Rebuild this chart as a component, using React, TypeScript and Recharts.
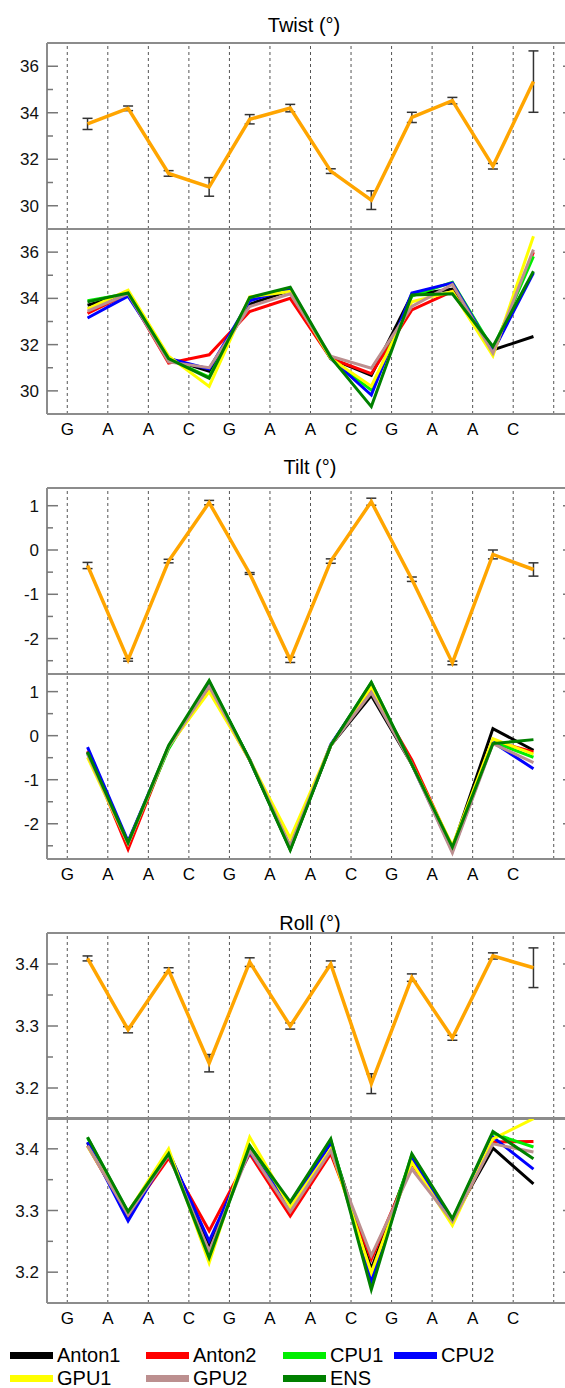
import { LineChart, Line, XAxis, YAxis, ReferenceLine, ErrorBar } from 'recharts';

const SEQ = ['G', 'A', 'A', 'C', 'G', 'A', 'A', 'C', 'G', 'A', 'A', 'C'];
const GRID_X = [0, 1, 2, 3, 4, 5, 6, 7, 8, 9, 10, 11, 12];

// Twist (deg)
const twistMean = [33.52, 34.19, 31.39, 30.81, 33.72, 34.2, 31.49, 30.24, 33.8, 34.52, 31.7, 35.34];
const twistErr = [0.24, 0.1, 0.12, 0.4, 0.2, 0.16, 0.1, 0.4, 0.22, 0.14, 0.12, 1.32];
const twistAnton1 = [33.7, 34.2, 31.4, 30.85, 33.75, 34.35, 31.4, 30.67, 34.15, 34.4, 31.77, 32.35];
const twistAnton2 = [33.35, 34.2, 31.2, 31.56, 33.43, 34.0, 31.4, 30.74, 33.5, 34.3, 31.63, 36.0];
const twistCPU1 = [33.9, 34.2, 31.4, 30.6, 33.95, 34.4, 31.4, 30.03, 34.1, 34.7, 31.8, 35.82];
const twistCPU2 = [33.15, 34.1, 31.4, 30.95, 33.9, 34.42, 31.4, 29.82, 34.23, 34.67, 31.7, 35.1];
const twistGPU1 = [33.55, 34.35, 31.5, 30.19, 34.07, 34.3, 31.4, 30.2, 33.85, 34.3, 31.52, 36.69];
const twistGPU2 = [33.45, 34.2, 31.25, 31.0, 33.65, 34.2, 31.5, 30.98, 33.65, 34.6, 31.63, 36.11];
const twistENS = [33.85, 34.23, 31.4, 30.55, 34.04, 34.48, 31.45, 29.32, 34.15, 34.2, 31.92, 35.17];

// Tilt (deg)
const tiltMean = [-0.35, -2.48, -0.25, 1.07, -0.53, -2.48, -0.25, 1.09, -0.66, -2.55, -0.1, -0.44];
const tiltErr = [0.07, 0.03, 0.04, 0.05, 0.02, 0.06, 0.05, 0.08, 0.05, 0.04, 0.1, 0.15];
const tiltAnton1 = [-0.38, -2.45, -0.25, 1.2, -0.55, -2.58, -0.22, 0.91, -0.65, -2.55, 0.16, -0.33];
const tiltAnton2 = [-0.35, -2.58, -0.25, 1.05, -0.55, -2.52, -0.22, 1.05, -0.55, -2.55, -0.12, -0.37];
const tiltCPU1 = [-0.4, -2.43, -0.3, 1.22, -0.55, -2.55, -0.22, 1.2, -0.65, -2.55, -0.14, -0.49];
const tiltCPU2 = [-0.26, -2.4, -0.25, 1.15, -0.55, -2.55, -0.2, 1.15, -0.65, -2.62, -0.15, -0.75];
const tiltGPU1 = [-0.49, -2.45, -0.25, 1.0, -0.55, -2.33, -0.22, 1.1, -0.65, -2.5, -0.07, -0.42];
const tiltGPU2 = [-0.42, -2.45, -0.25, 1.12, -0.55, -2.5, -0.22, 0.98, -0.65, -2.66, -0.18, -0.61];
const tiltENS = [-0.37, -2.43, -0.22, 1.25, -0.55, -2.6, -0.22, 1.21, -0.65, -2.53, -0.18, -0.09];

// Roll (deg)
const rollMean = [3.409, 3.294, 3.39, 3.24, 3.403, 3.3, 3.4, 3.207, 3.378, 3.281, 3.413, 3.394];
const rollErr = [0.004, 0.005, 0.004, 0.014, 0.007, 0.005, 0.005, 0.016, 0.006, 0.004, 0.005, 0.032];
const rollAnton1 = [3.41, 3.29, 3.395, 3.245, 3.4, 3.305, 3.41, 3.205, 3.385, 3.285, 3.401, 3.343];
const rollAnton2 = [3.405, 3.292, 3.385, 3.267, 3.392, 3.291, 3.392, 3.221, 3.376, 3.28, 3.411, 3.412];
const rollCPU1 = [3.418, 3.297, 3.395, 3.228, 3.405, 3.31, 3.414, 3.19, 3.39, 3.285, 3.425, 3.403];
const rollCPU2 = [3.411, 3.283, 3.395, 3.2505, 3.395, 3.305, 3.41, 3.186, 3.384, 3.284, 3.419, 3.367];
const rollGPU1 = [3.404, 3.297, 3.4, 3.215, 3.419, 3.305, 3.4, 3.199, 3.378, 3.276, 3.416, 3.449];
const rollGPU2 = [3.405, 3.293, 3.39, 3.234, 3.397, 3.298, 3.397, 3.227, 3.367, 3.282, 3.408, 3.395];
const rollENS = [3.419, 3.298, 3.392, 3.2235, 3.405, 3.314, 3.416, 3.172, 3.392, 3.287, 3.428, 3.384];

const SERIES = [
  { key: 'anton1', name: 'Anton1', color: '#000000' },
  { key: 'anton2', name: 'Anton2', color: '#ff0000' },
  { key: 'cpu1', name: 'CPU1', color: '#00ee00' },
  { key: 'cpu2', name: 'CPU2', color: '#0000ff' },
  { key: 'gpu1', name: 'GPU1', color: '#ffff00' },
  { key: 'gpu2', name: 'GPU2', color: '#bc8f8f' },
  { key: 'ens', name: 'ENS', color: '#008000' },
];

const FONT = '"Liberation Sans", Arial, sans-serif';
const FRAME = '#8c8c8c';
const DOMAIN_X: [number, number] = [-0.5, 12.5];

const upperRows = (mean: number[], err: number[]) =>
  mean.map((m, i) => ({ x: i + 0.5, mean: m, err: err[i] }));

const lowerRows = (cols: number[][]) =>
  SEQ.map((_, i) => {
    const row: Record<string, number> = { x: i + 0.5 };
    SERIES.forEach((s, j) => (row[s.key] = cols[j][i]));
    return row;
  });

function YTick(props: any) {
  const { x, y, payload, side, majors, fmt } = props;
  const v = payload.value;
  const major = majors.some((m: number) => Math.abs(m - v) < 1e-9);
  const len = major ? 11 : 6;
  if (side === 'left') {
    const ax = x + 8;
    return (
      <g>
        <line x1={ax} x2={ax + len} y1={y} y2={y} stroke="#777" strokeWidth={1.5} />
        {major && (
          <text x={x} y={y} dy="0.36em" textAnchor="end" fontSize={17} fill="#111" fontFamily={FONT}>
            {fmt(v)}
          </text>
        )}
      </g>
    );
  }
  const ax = x - 8;
  return <line x1={ax} x2={ax - len} y1={y} y2={y} stroke="#777" strokeWidth={1.5} />;
}

function Panel({ top, data, domain, majors, minors, fmt, upper }: any) {
  const ticks = [...majors, ...minors];
  const height = upper ? 194 : 219;
  return (
    <div style={{ position: 'absolute', left: 0, top }}>
      <LineChart width={600} height={height} data={data} margin={{ top: 3, right: 0, bottom: upper ? 3 : 0, left: 0 }}>
        {GRID_X.map((k) => (
          <ReferenceLine key={k} x={k} stroke="#555" strokeDasharray="3 3" strokeWidth={1} />
        ))}
        <XAxis
          dataKey="x"
          type="number"
          domain={DOMAIN_X}
          ticks={GRID_X}
          interval={0}
          allowDataOverflow
          height={upper ? 1 : 30}
          tick={upper ? false : { fontSize: 17, fill: '#000', fontFamily: FONT }}
          tickFormatter={(k: number) => SEQ[k] ?? ''}
          tickLine={false}
          tickSize={0}
          tickMargin={9}
          axisLine={{ stroke: FRAME, strokeWidth: 2 }}
        />
        <XAxis
          xAxisId="top"
          orientation="top"
          dataKey="x"
          type="number"
          domain={DOMAIN_X}
          height={1}
          tick={false}
          tickLine={false}
          axisLine={{ stroke: FRAME, strokeWidth: 2 }}
        />
        <YAxis
          type="number"
          domain={domain}
          allowDataOverflow
          ticks={ticks}
          interval={0}
          width={47}
          tickSize={0}
          tickMargin={8}
          tickLine={false}
          axisLine={{ stroke: FRAME, strokeWidth: 2 }}
          tick={(p: any) => <YTick {...p} side="left" majors={majors} fmt={fmt} />}
        />
        <YAxis
          yAxisId="right"
          orientation="right"
          type="number"
          domain={domain}
          allowDataOverflow
          ticks={ticks}
          interval={0}
          width={26}
          tickSize={0}
          tickMargin={8}
          tickLine={false}
          axisLine={{ stroke: FRAME, strokeWidth: 2 }}
          tick={(p: any) => <YTick {...p} side="right" majors={majors} fmt={fmt} />}
        />
        {upper ? (
          <Line dataKey="mean" stroke="#ffa500" strokeWidth={3.5} dot={false} isAnimationActive={false}>
            <ErrorBar dataKey="err" width={5} stroke="#333" strokeWidth={1.5} direction="y" isAnimationActive={false} />
          </Line>
        ) : (
          SERIES.map((s) => (
            <Line
              key={s.key}
              dataKey={s.key}
              stroke={s.color}
              strokeWidth={3}
              dot={false}
              isAnimationActive={false}
            />
          ))
        )}
      </LineChart>
    </div>
  );
}

function Title({ text, top, cx }: { text: string; top: number; cx: number }) {
  return (
    <div
      style={{
        position: 'absolute',
        left: cx - 100,
        top,
        width: 200,
        textAlign: 'center',
        fontSize: 20,
        lineHeight: '20px',
        fontFamily: FONT,
        color: '#000',
      }}
    >
      {text}
    </div>
  );
}

const LEGEND_POS = [
  { left: 10, top: 1345 },
  { left: 146, top: 1345 },
  { left: 283, top: 1345 },
  { left: 394, top: 1345 },
  { left: 10, top: 1368 },
  { left: 146, top: 1368 },
  { left: 283, top: 1368 },
];

export default function App() {
  const fmtInt = (v: number) => String(v);
  const fmtRoll = (v: number) => v.toFixed(1);
  return (
    <div
      style={{
        position: 'absolute',
        left: 0,
        top: 0,
        width: 565,
        height: 1388,
        overflow: 'hidden',
        background: '#fff',
      }}
    >
      <Title text="Twist (°)" top={15} cx={304} />
      <Panel
        top={39}
        upper
        data={upperRows(twistMean, twistErr)}
        domain={[29, 37]}
        majors={[30, 32, 34, 36]}
        minors={[31, 33, 35]}
        fmt={fmtInt}
      />
      <Panel
        top={225}
        data={lowerRows([twistAnton1, twistAnton2, twistCPU1, twistCPU2, twistGPU1, twistGPU2, twistENS])}
        domain={[29, 37]}
        majors={[30, 32, 34, 36]}
        minors={[31, 33, 35]}
        fmt={fmtInt}
      />

      <Title text="Tilt (°)" top={457} cx={310} />
      <Panel
        top={484}
        upper
        data={upperRows(tiltMean, tiltErr)}
        domain={[-2.8, 1.4]}
        majors={[-2, -1, 0, 1]}
        minors={[-2.5, -1.5, -0.5, 0.5]}
        fmt={fmtInt}
      />
      <Panel
        top={670}
        data={lowerRows([tiltAnton1, tiltAnton2, tiltCPU1, tiltCPU2, tiltGPU1, tiltGPU2, tiltENS])}
        domain={[-2.8, 1.4]}
        majors={[-2, -1, 0, 1]}
        minors={[-2.5, -1.5, -0.5, 0.5]}
        fmt={fmtInt}
      />

      <Title text="Roll (°)" top={913} cx={310} />
      <Panel
        top={929}
        upper
        data={upperRows(rollMean, rollErr)}
        domain={[3.15, 3.45]}
        majors={[3.2, 3.3, 3.4]}
        minors={[3.25, 3.35]}
        fmt={fmtRoll}
      />
      <Panel
        top={1114}
        data={lowerRows([rollAnton1, rollAnton2, rollCPU1, rollCPU2, rollGPU1, rollGPU2, rollENS])}
        domain={[3.15, 3.45]}
        majors={[3.2, 3.3, 3.4]}
        minors={[3.25, 3.35]}
        fmt={fmtRoll}
      />

      {SERIES.map((s, i) => (
        <div
          key={s.key}
          style={{
            position: 'absolute',
            left: LEGEND_POS[i].left,
            top: LEGEND_POS[i].top,
            height: 20,
            display: 'flex',
            alignItems: 'center',
            fontFamily: FONT,
            fontSize: 20,
            lineHeight: '20px',
            color: '#000',
            whiteSpace: 'nowrap',
          }}
        >
          <span style={{ display: 'inline-block', width: 43, height: 7, background: s.color, marginRight: 4 }} />
          {s.name}
        </div>
      ))}
    </div>
  );
}
